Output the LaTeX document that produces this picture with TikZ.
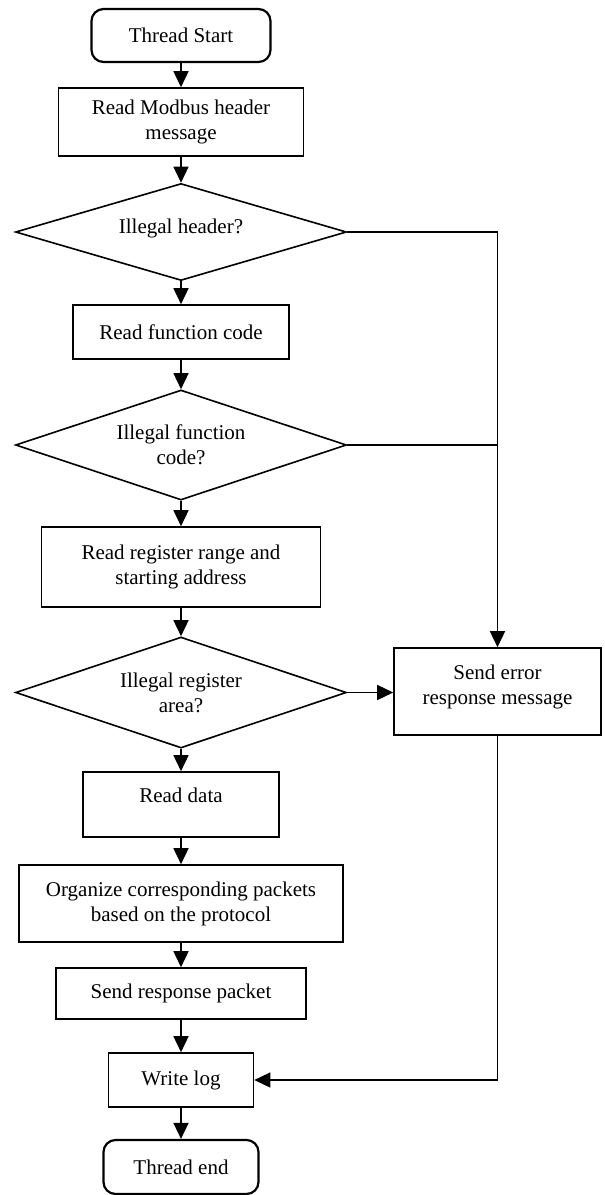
\documentclass[tikz,border=0pt]{standalone}
\usepackage{fontspec}
\setmainfont{Liberation Serif}
\usetikzlibrary{shapes.geometric,arrows.meta}

\begin{document}
\begin{tikzpicture}[
            x=0.5pt, y=-0.5pt,
            font=\fontsize{10.5}{12.5}\selectfont,
            box/.style={draw, line width=0.8pt, align=center, inner sep=2pt},
            term/.style={box, rounded corners=6pt, line width=1.1pt},
            decision/.style={draw, diamond, aspect=3, line width=0.8pt, align=center, inner sep=0pt},
            flow/.style={-{Triangle[length=8pt,width=7.5pt]}, line width=0.75pt},
            link/.style={line width=0.75pt}
        ]
            \useasboundingbox (0,0) rectangle (605,1195);

            % Start of the thread
            \node[term, minimum width=89.5pt, minimum height=26.5pt] (start) at (181,35.5) {Thread Start};

            % Checks on the left column
            \node[box, minimum width=122.5pt, minimum height=34pt] (header) at (181,122) {Read Modbus header\\message};
            \node[decision, minimum width=165.5pt, minimum height=48.5pt, text depth=6pt] (illhead) at (181,232) {Illegal header?};
            \node[box, minimum width=108pt, minimum height=27pt] (func) at (181,332) {Read function code};
            \node[decision, minimum width=165.5pt, minimum height=55pt] (illfunc) at (181,445) {Illegal function\\code?};
            \node[box, minimum width=139.5pt, minimum height=40pt] (range) at (181,567) {Read register range and\\starting address};
            \node[decision, minimum width=165.5pt, minimum height=55.5pt] (illreg) at (181,692.5) {Illegal register\\area?};

            % Error branch on the right
            \node[box, minimum width=103.5pt, minimum height=43.5pt, text depth=7pt] (error) at (497.5,691.5) {Send error\\response message};

            % Normal path
            \node[box, minimum width=98pt, minimum height=32.5pt, text depth=9pt] (data) at (181,804.5) {Read data};
            \node[box, minimum width=162pt, minimum height=38.5pt] (pack) at (181,903.5) {Organize corresponding packets\\based on the protocol};
            \node[box, minimum width=125pt, minimum height=25.5pt] (resp) at (181,993.5) {Send response packet};
            \node[box, minimum width=72.5pt, minimum height=27pt] (log) at (181,1080) {Write log};
            \node[term, minimum width=77.5pt, minimum height=27pt] (end) at (181,1167) {Thread end};

            % Main column arrows
            \draw[flow] (start) -- (header);
            \draw[flow] (header) -- (illhead);
            \draw[flow] (illhead) -- (func);
            \draw[flow] (func) -- (illfunc);
            \draw[flow] (illfunc) -- (range);
            \draw[flow] (range) -- (illreg);
            \draw[flow] (illreg) -- (data);
            \draw[flow] (data) -- (pack);
            \draw[flow] (pack) -- (resp);
            \draw[flow] (resp) -- (log);
            \draw[flow] (log) -- (end);

            % Error branch
            \draw[flow] (illhead.east) -| (error.north);
            \draw[link] (illfunc.east) -- (illfunc.east -| error.north);
            \draw[flow] (illreg.east) -- (illreg.east -| error.west);
            \draw[flow] (error.south) |- (log.east);

        \end{tikzpicture}
\end{document}
